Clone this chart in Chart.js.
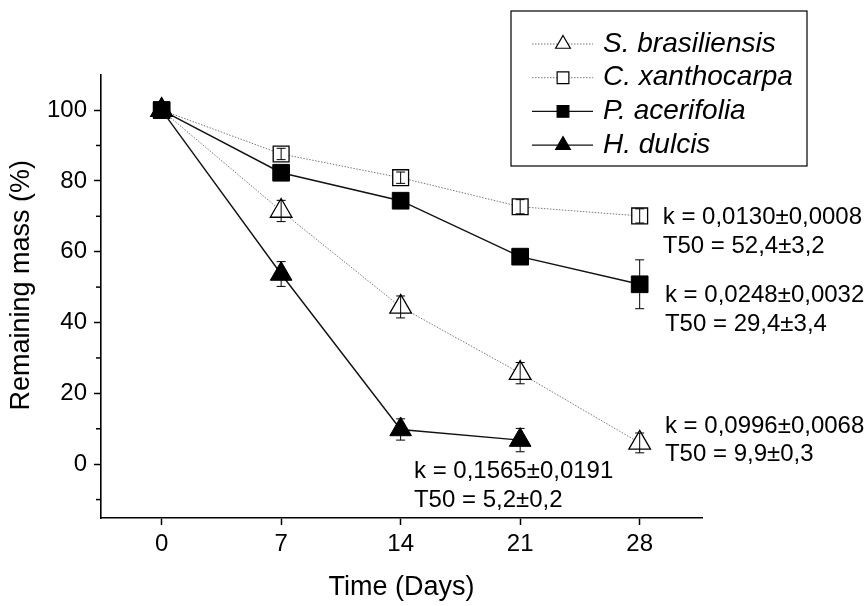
<!DOCTYPE html>
<html>
<head>
<meta charset="utf-8">
<script src="https://cdn.jsdelivr.net/npm/chart.js@4.4.1/dist/chart.umd.min.js"></script>
<style>
  html, body { margin: 0; padding: 0; background: #fff; }
  #wrap { width: 864px; height: 606px; }
</style>
</head>
<body>
<div id="wrap"><canvas id="myChart"></canvas></div>
<script>
// sampling days
const days = [0, 7, 14, 21, 28];
const yTicks = [0, 20, 40, 60, 80, 100];
const yMinorTicks = [-10, 10, 30, 50, 70, 90];

// remaining mass (%) and error for each species
const sBras = [100, 71.5, 44.4, 25.7, 6.0];
const sBrasErr = [0.8, 3.0, 3.1, 3.0, 2.8];
const cXan = [100, 87.6, 80.9, 72.7, 70.1];
const cXanErr = [0.8, 1.6, 1.6, 2.0, 2.0];
const pAce = [100, 82.3, 74.4, 58.6, 50.8];
const pAceErr = [0.5, 1.0, 1.0, 1.0, 6.9];
const hDul = [100, 53.7, 9.8, 6.8];
const hDulErr = [0.5, 3.5, 3.0, 3.3];

const kTexts = ['k = 0,0130±0,0008', 'k = 0,0248±0,0032', 'k = 0,0996±0,0068', 'k = 0,1565±0,0191'];
const t50Texts = ['T50 = 52,4±3,2', 'T50 = 29,4±3,4', 'T50 = 9,9±0,3', 'T50 = 5,2±0,2'];

const FONT = "'Liberation Sans', Arial, sans-serif";

function pts(vals) {
    return vals.map((v, i) => ({x: days[i], y: v}));
}

const data = {
    datasets: [
        {
            label: 'S. brasiliensis',
            data: pts(sBras),
            err: sBrasErr,
            borderColor: '#777',
            borderWidth: 1,
            borderDash: [1.5, 1.5],
            pointStyle: 'triangle',
            pointRadius: 12.5,
            pointBackgroundColor: '#fff',
            pointBorderColor: '#000',
            pointBorderWidth: 1.3,
            order: 3
        },
        {
            label: 'C. xanthocarpa',
            data: pts(cXan),
            err: cXanErr,
            borderColor: '#777',
            borderWidth: 1,
            borderDash: [1.5, 1.5],
            pointStyle: 'rect',
            pointRadius: 11.2,
            pointBackgroundColor: '#fff',
            pointBorderColor: '#000',
            pointBorderWidth: 1.3,
            order: 2
        },
        {
            label: 'P. acerifolia',
            data: pts(pAce),
            err: pAceErr,
            borderColor: '#111',
            borderWidth: 1.4,
            pointStyle: 'rect',
            pointRadius: 11.8,
            pointBackgroundColor: '#000',
            pointBorderColor: '#000',
            pointBorderWidth: 1,
            order: 1
        },
        {
            label: 'H. dulcis',
            data: pts(hDul),
            err: hDulErr,
            borderColor: '#111',
            borderWidth: 1.4,
            pointStyle: 'triangle',
            pointRadius: 12.5,
            pointBackgroundColor: '#000',
            pointBorderColor: '#000',
            pointBorderWidth: 1,
            order: 0
        }
    ]
};

function drawErrors(chart, openMarkers) {
    const ctx = chart.ctx;
    const xs = chart.scales.x, ys = chart.scales.y;
    ctx.save();
    ctx.strokeStyle = '#000';
    ctx.lineWidth = 1;
    chart.data.datasets.forEach(ds => {
        if ((ds.pointBackgroundColor === '#fff') !== openMarkers) return;
        ds.data.forEach((p, i) => {
            const e = ds.err[i];
            const x = xs.getPixelForValue(p.x);
            const y1 = ys.getPixelForValue(p.y + e);
            const y2 = ys.getPixelForValue(p.y - e);
            ctx.beginPath();
            ctx.moveTo(x, y1); ctx.lineTo(x, y2);
            ctx.moveTo(x - 4.5, y1); ctx.lineTo(x + 4.5, y1);
            ctx.moveTo(x - 4.5, y2); ctx.lineTo(x + 4.5, y2);
            ctx.stroke();
        });
    });
    ctx.restore();
}

// error bars: behind filled markers, over open ones (as in the original)
const errorBars = {
    id: 'errorBars',
    beforeDatasetsDraw(chart) { drawErrors(chart, false); },
    afterDatasetsDraw(chart) { drawErrors(chart, true); }
};

// short minor ticks on the y axis
const minorTicks = {
    id: 'minorTicks',
    afterDraw(chart) {
        const ctx = chart.ctx;
        const ys = chart.scales.y;
        const left = chart.chartArea.left;
        ctx.save();
        ctx.strokeStyle = '#000';
        ctx.lineWidth = 1.5;
        yMinorTicks.forEach(v => {
            const y = ys.getPixelForValue(v);
            ctx.beginPath();
            ctx.moveTo(left - 5, y);
            ctx.lineTo(left, y);
            ctx.stroke();
        });
        ctx.restore();
    }
};

// k and T50 texts, anchored in data units
const annotations = {
    id: 'annotations',
    afterDraw(chart) {
        const ctx = chart.ctx;
        const xs = chart.scales.x, ys = chart.scales.y;
        const anchors = [[29.35, 67.9], [29.48, 45.8], [29.48, 8.9], [14.78, -4.0]];
        ctx.save();
        ctx.fillStyle = '#000';
        ctx.font = '24px ' + FONT;
        ctx.textAlign = 'left';
        ctx.textBaseline = 'alphabetic';
        anchors.forEach((a, i) => {
            const x = xs.getPixelForValue(a[0]);
            const y = ys.getPixelForValue(a[1]);
            ctx.fillText(kTexts[i], x, y);
            ctx.fillText(t50Texts[i], x, y + 28.8);
        });
        ctx.restore();
    }
};

// boxed legend with line + marker samples
const boxLegend = {
    id: 'boxLegend',
    afterDraw(chart) {
        const ctx = chart.ctx;
        const box = {left: 511, top: 11, right: 807, bottom: 166};
        ctx.save();
        ctx.strokeStyle = '#000';
        ctx.lineWidth = 1.2;
        ctx.strokeRect(box.left, box.top, box.right - box.left, box.bottom - box.top);
        ctx.font = 'italic 28px ' + FONT;
        ctx.textBaseline = 'middle';
        ctx.textAlign = 'left';
        chart.data.datasets.forEach((ds, i) => {
            const y = 44 + i * 33.7;
            ctx.save();
            ctx.strokeStyle = ds.borderColor;
            ctx.lineWidth = ds.borderWidth;
            ctx.setLineDash(ds.borderDash || []);
            ctx.beginPath();
            ctx.moveTo(532, y); ctx.lineTo(593, y);
            ctx.stroke();
            ctx.restore();
            ctx.fillStyle = ds.pointBackgroundColor;
            ctx.strokeStyle = ds.pointBorderColor;
            Chart.helpers.drawPoint(ctx, {
                pointStyle: ds.pointStyle,
                radius: ds.pointStyle === 'triangle' ? 8.5 : 8.3,
                rotation: 0,
                borderWidth: 1.2
            }, 563, y);
            ctx.fillStyle = '#000';
            ctx.fillText(ds.label, 603, y);
        });
        ctx.restore();
    }
};

const config = {
    type: 'line',
    data: data,
    options: {
        responsive: true,
        maintainAspectRatio: false,
        animation: false,
        layout: {
            autoPadding: false,
            padding: {top: 75, right: 162, left: 0, bottom: 0}
        },
        plugins: {
            legend: {display: false},
            tooltip: {enabled: false}
        },
        scales: {
            x: {
                type: 'linear',
                min: -3.55,
                max: 31.65,
                afterBuildTicks: s => { s.ticks = days.map(v => ({value: v})); },
                afterFit: s => { s.height = 88; },
                grid: {drawOnChartArea: false, tickLength: 7, tickWidth: 1.5, tickColor: '#000'},
                border: {color: '#000', width: 1.6},
                ticks: {color: '#000', padding: 5, maxRotation: 0, font: {family: FONT, size: 24}},
                title: {display: true, text: 'Time (Days)', color: '#000', padding: {top: 0, bottom: 2}, font: {family: FONT, size: 27}}
            },
            y: {
                min: -15.2,
                max: 109.9,
                afterBuildTicks: s => { s.ticks = yTicks.map(v => ({value: v})); },
                afterFit: s => { s.width = 101; },
                grid: {drawOnChartArea: false, tickLength: 7, tickWidth: 1.5, tickColor: '#000'},
                border: {color: '#000', width: 1.6},
                ticks: {color: '#000', padding: 7, font: {family: FONT, size: 24}},
                title: {display: true, text: '   Remaining mass (%)', color: '#000', padding: {top: 5, bottom: 0}, font: {family: FONT, size: 27}}
            }
        }
    },
    plugins: [errorBars, minorTicks, annotations, boxLegend]
};

var myChart = new Chart(document.getElementById('myChart'), config);
</script>
</body>
</html>
